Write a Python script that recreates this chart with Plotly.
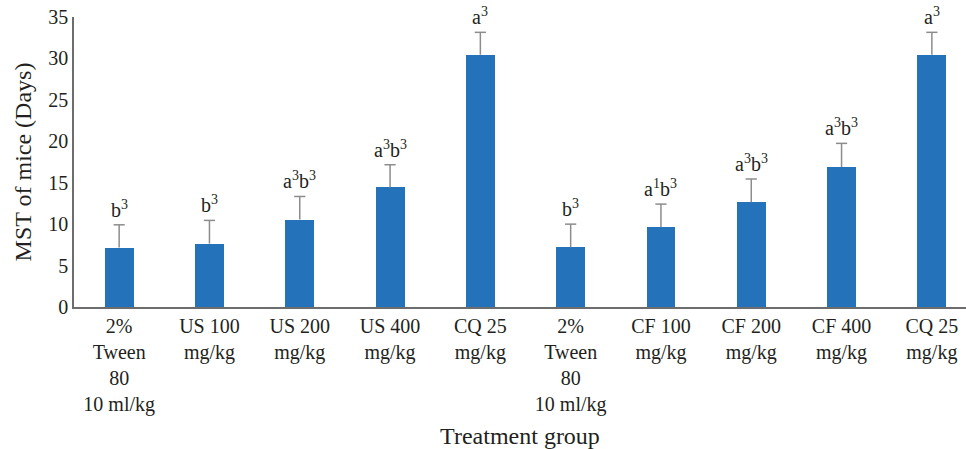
import plotly.graph_objects as go

categories = ["2%<br>Tween<br>80<br>10 ml/kg", "US 100<br>mg/kg", "US 200<br>mg/kg", "US 400<br>mg/kg",
              "CQ 25<br>mg/kg", "2%<br>Tween<br>80<br>10 ml/kg", "CF 100<br>mg/kg", "CF 200<br>mg/kg",
              "CF 400<br>mg/kg", "CQ 25<br>mg/kg"]
mst = [7.17, 7.65, 10.56, 14.43, 30.45, 7.2, 9.62, 12.65, 16.9, 30.45]
sem = [2.75, 2.8, 2.78, 2.74, 2.7, 2.8, 2.8, 2.8, 2.85, 2.7]
letters = ["b<sup>3</sup>", "b<sup>3</sup>", "a<sup>3</sup>b<sup>3</sup>", "a<sup>3</sup>b<sup>3</sup>",
           "a<sup>3</sup>", "b<sup>3</sup>", "a<sup>1</sup>b<sup>3</sup>", "a<sup>3</sup>b<sup>3</sup>",
           "a<sup>3</sup>b<sup>3</sup>", "a<sup>3</sup>"]
yticks = [0, 5, 10, 15, 20, 25, 30, 35]

x = list(range(len(categories)))
tops = [m + e for m, e in zip(mst, sem)]
FONT = "Liberation Serif"
TXT = "#231f20"
ERR = "#8C8C8C"

fig = go.Figure()
fig.add_trace(go.Bar(
    x=x, y=mst, width=0.32, marker=dict(color="#2473BA", line=dict(width=0)),
))
fig.add_trace(go.Scatter(
    x=x, y=tops, mode="markers",
    marker=dict(symbol="line-ew", size=8, line=dict(color=ERR, width=1.5)),
    error_y=dict(type="data", array=[0] * len(sem), arrayminus=sem, symmetric=False,
                 color=ERR, thickness=1.5, width=0),
))
for xi, yi, t in zip(x, tops, letters):
    fig.add_annotation(x=xi, y=yi, text=t, showarrow=False, yanchor="bottom",
                       yshift=2, font=dict(family=FONT, size=20, color=TXT))

fig.update_layout(
    width=966, height=449, margin=dict(l=74, r=0, t=17, b=142),
    paper_bgcolor="white", plot_bgcolor="white", showlegend=False,
    font=dict(family=FONT, size=20, color=TXT), bargap=0,
)
fig.update_xaxes(range=[-0.5, 9.378], tickvals=x, ticktext=categories, showgrid=False,
                 showline=True, linecolor="#6d6d6d", linewidth=2, ticks="", tickangle=0,
                 title=dict(text="Treatment group", standoff=12), zeroline=False)
fig.update_yaxes(range=[0, 35], tickvals=yticks, showgrid=False, showline=True,
                 linecolor="#6d6d6d", linewidth=1.5, ticks="", zeroline=False,
                 title=dict(text="MST of mice (Days)", standoff=10))
fig.write_html("out.html")
